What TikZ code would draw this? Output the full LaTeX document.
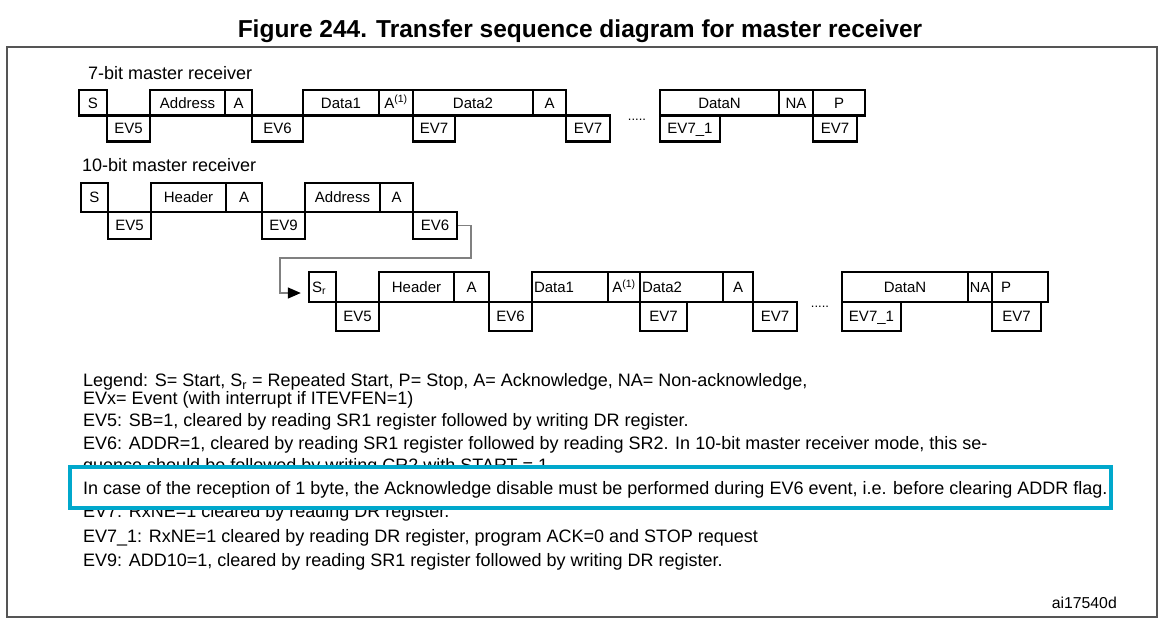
\documentclass[tikz,border=0pt]{standalone}
\usepackage{fontspec}
\setmainfont{Liberation Sans}
\usetikzlibrary{arrows.meta}

\definecolor{hilite}{RGB}{0,168,204}
\definecolor{framegray}{RGB}{85,85,85}

\tikzset{
  field/.style={draw, line width=2.4pt, inner sep=0pt, text height=10.5pt, text depth=0pt,
    font=\fontsize{15}{15}\selectfont},
  legline/.style={anchor=base west, inner sep=0pt, font=\fontsize{18}{18}\selectfont},
  link/.style={draw=gray, line width=1.3pt, -{Triangle[length=13pt, width=11pt, color=black]}},
}

% one field of the frame: [options]{name}{x left}{x right}{y top}{y bottom}{text}
\newcommand{\fld}[7][]{%
  \pgfmathsetmacro{\fw}{#4-#3}\pgfmathsetmacro{\fh}{#6-#5}%
  \node[field, minimum width=\fw pt, minimum height=\fh pt, #1] (#2) at ({(#3+#4)/2},{(#5+#6)/2}) {#7};}

\begin{document}
\begin{tikzpicture}[x=1pt, y=-1pt]
    \useasboundingbox (0,0) rectangle (1161,622);

    \node[anchor=base, inner sep=0pt, font=\bfseries\fontsize{24.5}{24.5}\selectfont] (title) at (580,37)
      {Figure 244. Transfer sequence diagram for master receiver};
    \draw[framegray, line width=1.8pt] (7,47) rectangle (1157,617);

    % 7-bit master receiver (top row y 90-115.5, bottom row y 115.5-141.5)
    \node[anchor=base west, inner sep=0pt, font=\fontsize{18}{18}\selectfont] (lab7) at (88,79) {7-bit master receiver};
    \fld{s7}{79}{107}{90}{115.5}{S} \fld{ev5a}{107}{150}{115.5}{141.5}{EV5}
    \fld{adr7}{150}{225}{90}{115.5}{Address} \fld{a7a}{225}{252}{90}{115.5}{A}
    \fld{ev6a}{252}{303}{115.5}{141.5}{EV6}
    \fld{d1a}{303}{379}{90}{115.5}{Data1} \fld{a1a}{379}{413}{90}{115.5}{A\textsuperscript{(1)}}
    \fld{ev7a}{413}{455}{115.5}{141.5}{EV7}
    \fld{d2a}{413}{533}{90}{115.5}{Data2} \fld{a7b}{533}{566}{90}{115.5}{A}
    \fld{ev7b}{566}{610}{115.5}{141.5}{EV7}
    \node[inner sep=0pt, font=\fontsize{13}{13}\selectfont] (dots7) at (637,120) {.....};
    \fld{dna}{660}{779}{90}{115.5}{DataN} \fld{na7}{779}{813}{90}{115.5}{NA}
    \fld{p7}{813}{865}{90}{115.5}{P\hspace{12pt}}
    \fld{ev71a}{660}{720}{115.5}{141.5}{EV7\_1}
    \fld{ev7c}{813}{857}{115.5}{141.5}{EV7}

    % 10-bit master receiver, first part (y 183-212-239)
    \node[anchor=base west, inner sep=0pt, font=\fontsize{18}{18}\selectfont] (lab10) at (82,171) {10-bit master receiver};
    \fld{s10}{81}{108}{183}{212}{S} \fld{ev5b}{108}{151}{212}{239}{EV5}
    \fld{hd10}{151}{226}{183}{212}{Header} \fld{a10a}{226}{262}{183}{212}{A}
    \fld{ev9}{262}{305}{212}{239}{EV9}
    \fld{adr10}{305}{380}{183}{212}{Address} \fld{a10b}{380}{413}{183}{212}{A}
    \fld{ev6b}{413}{457}{212}{239}{EV6}

    % 10-bit master receiver, second part (y 272-302-331)
    \fld[text width=27pt, align=left]{sr}{309}{336}{272}{302}{\hspace{3pt}S\textsubscript{r}}
    \fld{ev5c}{336}{379}{302}{331}{EV5}
    \fld{hdr}{379}{454}{272}{302}{Header} \fld{a10c}{454}{489}{272}{302}{A}
    \fld{ev6c}{489}{532}{302}{331}{EV6}
    \fld[text width=76pt, align=left]{d1b}{532}{608}{272}{302}{\hspace{2pt}Data1}
    \fld{a1b}{608}{640}{272}{302}{A\textsuperscript{(1)}}
    \fld{ev7d}{640}{687}{302}{331}{EV7}
    \fld[text width=83pt, align=left]{d2b}{640}{723}{272}{302}{\hspace{2pt}Data2}
    \fld{a10d}{723}{753}{272}{302}{A}
    \fld{ev7e}{753}{797}{302}{331}{EV7}
    \node[inner sep=0pt, font=\fontsize{13}{13}\selectfont] (dots10) at (820,307) {.....};
    \fld{dnb}{842}{968}{272}{302}{DataN}
    \fld[font=\fontsize{14.5}{14.5}\selectfont]{na10}{968}{992}{272}{302}{NA}
    \fld[text width=56pt, align=left]{p10}{992}{1048}{272}{302}{\hspace{9pt}P}
    \fld{ev71b}{842}{901}{302}{331}{EV7\_1}
    \fld{ev7f}{992}{1041}{302}{331}{EV7}

    % EV6 of the first part leads on to the repeated start
    \coordinate (jog1) at (471,258);
    \coordinate (jog2) at (280,293);
    \draw[link] (ev6b.east) -| (jog1) -| (jog2) -- ([xshift=-7pt]sr.west |- jog2);

    % Legend and events
    \node[legline] (leg) at (83,386.5) {Legend: S= Start, S\textsubscript{r} = Repeated Start, P= Stop, A= Acknowledge, NA= Non-acknowledge,};
    \node[legline] (evx) at (83,404.5) {EVx= Event (with interrupt if ITEVFEN=1)};
    \node[legline] (ev5t) at (83,426.5) {EV5: SB=1, cleared by reading SR1 register followed by writing DR register.};
    \node[legline] (ev6t) at (83,449.5) {EV6: ADDR=1, cleared by reading SR1 register followed by reading SR2. In 10-bit master receiver mode, this se-};
    \node[legline] (ev6u) at (83,471.5) {quence should be followed by writing CR2 with START = 1.};
    \node[legline] (ev7t) at (83,517) {EV7: RxNE=1 cleared by reading DR register.};
    % highlighted note
    \draw[hilite, line width=4pt, fill=white] (70,467) rectangle (1111,508);
    \node[legline] (note) at (83,494.5) {In case of the reception of 1 byte, the Acknowledge disable must be performed during EV6 event, i.e. before clearing ADDR flag.};
    \node[legline] (ev71t) at (83,542.5) {EV7\_1: RxNE=1 cleared by reading DR register, program ACK=0 and STOP request};
    \node[legline] (ev9t) at (83,566.5) {EV9: ADD10=1, cleared by reading SR1 register followed by writing DR register.};
    \node[anchor=base east, inner sep=0pt, font=\fontsize{15.8}{15.8}\selectfont] (ref) at (1117,608) {ai17540d};
  \end{tikzpicture}
\end{document}
